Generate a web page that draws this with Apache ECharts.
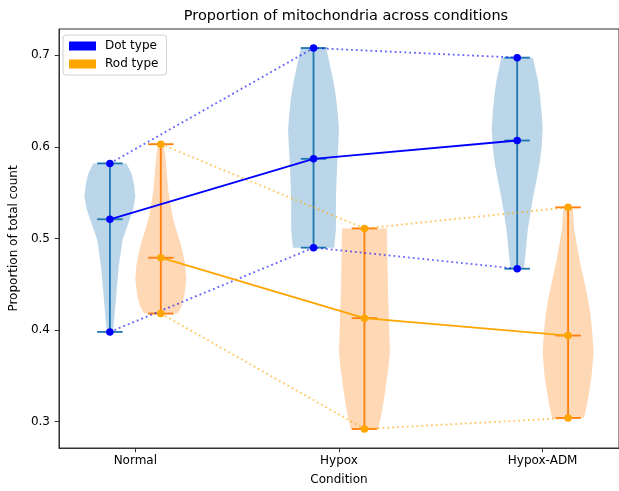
<!DOCTYPE html>
<html>
<head>
<meta charset="utf-8">
<script src="https://cdn.jsdelivr.net/npm/echarts@6/dist/echarts.min.js"></script>
<style>html,body{margin:0;padding:0;background:#fff;}#c{width:619px;height:491px;}</style>
</head>
<body>
<div id="c"></div>
<script>
// ---- data ----
const categories = ['Normal', 'Hypox', 'Hypox-ADM'];
const yTicks = [0.3, 0.4, 0.5, 0.6, 0.7];

const dotMean = [0.521, 0.587, 0.607];
const dotMin  = [0.398, 0.490, 0.467];
const dotMax  = [0.582, 0.708, 0.6975];

const rodMean = [0.479, 0.413, 0.394];
const rodMin  = [0.418, 0.292, 0.304];
const rodMax  = [0.603, 0.511, 0.534];

// violin outlines: [value, relative half-width] from top to bottom
const dotProfiles = [
  [[0.582,0.65],[0.571,0.85],[0.560,0.94],[0.546,1.0],[0.533,0.92],[0.521,0.78],[0.499,0.5],[0.470,0.35],[0.445,0.27],[0.419,0.19],[0.398,0.12]],
  [[0.708,0.5],[0.691,0.63],[0.673,0.77],[0.655,0.88],[0.637,0.95],[0.619,1.0],[0.600,0.97],[0.582,0.93],[0.546,0.88],[0.510,0.88],[0.490,0.81]],
  [[0.6975,0.62],[0.673,0.81],[0.655,0.9],[0.637,0.96],[0.619,1.0],[0.600,0.96],[0.582,0.88],[0.564,0.76],[0.546,0.63],[0.528,0.52],[0.510,0.42],[0.481,0.32],[0.467,0.26]]
];
const rodProfiles = [
  [[0.603,0.12],[0.586,0.19],[0.553,0.29],[0.524,0.46],[0.510,0.6],[0.499,0.73],[0.484,0.87],[0.470,0.96],[0.455,1.0],[0.437,0.92],[0.425,0.8],[0.418,0.65]],
  [[0.511,0.88],[0.484,0.9],[0.448,0.92],[0.412,0.96],[0.376,1.0],[0.361,0.95],[0.347,0.88],[0.334,0.82],[0.321,0.75],[0.303,0.63],[0.292,0.54]],
  [[0.534,0.18],[0.510,0.24],[0.492,0.35],[0.474,0.47],[0.455,0.62],[0.437,0.76],[0.419,0.87],[0.401,0.94],[0.376,1.0],[0.361,0.96],[0.347,0.91],[0.321,0.76],[0.304,0.63]]
];

// ---- layout / style ----
const OFF = 0.125;      // group offset from category position
const HALF = 0.125;     // max half width of violin
const BAR = 0.0625;     // half length of extrema bars
const LW = 1.85;

const groups = [
  {name:'Dot type', mean:dotMean, min:dotMin, max:dotMax, prof:dotProfiles, off:-OFF,
   body:'rgba(31,119,180,0.3)', bar:'#1f77b4', mark:'#0000ff'},
  {name:'Rod type', mean:rodMean, min:rodMin, max:rodMax, prof:rodProfiles, off:OFF,
   body:'rgba(255,127,14,0.3)', bar:'#ff7f0e', mark:'#ffa500'}
];

const violinData = [];
groups.forEach((g, gi) => {
  categories.forEach((c, ci) => violinData.push([ci + 1 + g.off, g.mean[ci], gi, ci]));
});

function renderBody(params, api) {
  const pos = api.value(0), gi = api.value(2), ci = api.value(3);
  const g = groups[gi], prof = g.prof[ci];
  const pts = [];
  prof.forEach(p => pts.push(api.coord([pos + HALF * p[1], p[0]])));
  for (let i = prof.length - 1; i >= 0; i--) pts.push(api.coord([pos - HALF * prof[i][1], prof[i][0]]));
  return {type:'polygon', shape:{points:pts}, style:{fill:g.body}};
}
function renderBars(params, api) {
  const pos = api.value(0), gi = api.value(2), ci = api.value(3);
  const g = groups[gi];
  const st = {stroke:g.bar, lineWidth:LW};
  const line = (a, b) => {
    const p1 = api.coord(a), p2 = api.coord(b);
    return {type:'line', shape:{x1:p1[0], y1:p1[1], x2:p2[0], y2:p2[1]}, style:st};
  };
  return {type:'group', children:[
    line([pos, g.min[ci]], [pos, g.max[ci]]),
    line([pos - BAR, g.min[ci]], [pos + BAR, g.min[ci]]),
    line([pos - BAR, g.max[ci]], [pos + BAR, g.max[ci]]),
    line([pos - BAR, g.mean[ci]], [pos + BAR, g.mean[ci]])
  ]};
}

const series = [
  {type:'custom', renderItem:renderBody, data:violinData, z:1, silent:true, encode:{x:0, y:1}},
  {type:'custom', renderItem:renderBars, data:violinData, z:2, silent:true, encode:{x:0, y:1}}
];
groups.forEach(g => {
  const pts = arr => arr.map((v, i) => [i + 1 + g.off, v]);
  ['max', 'min'].forEach(k => series.push({
    type:'line', data:pts(g[k]), z:3, symbol:'circle', symbolSize:7.5,
    itemStyle:{color:g.mark}, lineStyle:{color:g.mark, width:LW, type:[1.85, 3.0], opacity:0.6},
    silent:true, animation:false
  }));
  series.push({
    name:g.name, type:'line', data:pts(g.mean), z:4, symbol:'circle', symbolSize:7.5,
    itemStyle:{color:g.mark}, lineStyle:{color:g.mark, width:LW},
    silent:true, animation:false
  });
});

const FONT = 'DejaVu Sans';
const chart = echarts.init(document.getElementById('c'));
chart.setOption({
  animation:false,
  backgroundColor:'#fff',
  textStyle:{fontFamily:FONT},
  title:{text:'Proportion of mitochondria across conditions', left:341, textAlign:'center', top:4,
    textStyle:{fontFamily:FONT, fontSize:14.5, fontWeight:'normal', color:'#000'}},
  legend:{
    data:groups.map(g => ({name:g.name, icon:'rect', itemStyle:{color:g.mark, opacity:1}})),
    orient:'vertical', left:63, top:35, itemWidth:27, itemHeight:9, itemGap:6,
    padding:[5, 8, 5, 6], borderColor:'#d0d0d0', borderWidth:1, borderRadius:3,
    backgroundColor:'rgba(255,255,255,0.8)',
    textStyle:{fontFamily:FONT, fontSize:12, color:'#000', padding:[0,0,0,4]}
  },
  grid:{left:58, right:-5.5, top:29, bottom:41, show:true, borderColor:'#333', borderWidth:1, backgroundColor:'transparent'},
  xAxis:{
    type:'value', min:0.625, max:3.375,
    name:'Condition', nameLocation:'middle', nameGap:26,
    nameTextStyle:{fontFamily:FONT, fontSize:12, color:'#000'},
    axisLine:{show:true, lineStyle:{color:'#333', width:1}},
    axisTick:{show:true, inside:false, length:4.3, lineStyle:{color:'#333'}, customValues:[1,2,3]},
    axisLabel:{customValues:[1,2,3], formatter:v => categories[Math.round(v) - 1], margin:7,
      fontFamily:FONT, fontSize:12, color:'#000'},
    splitLine:{show:false}
  },
  yAxis:{
    type:'value', min:0.2712, max:0.7288,
    name:'Proportion of total count', nameLocation:'middle', nameGap:34,
    nameTextStyle:{fontFamily:FONT, fontSize:12, color:'#000'},
    axisLine:{show:true, lineStyle:{color:'#333', width:1}},
    axisTick:{show:true, inside:false, length:4.3, lineStyle:{color:'#333'}, customValues:yTicks},
    axisLabel:{customValues:yTicks, formatter:v => v.toFixed(1), margin:9,
      fontFamily:FONT, fontSize:12, color:'#000'},
    splitLine:{show:false}
  },
  series:series
});
</script>
</body>
</html>
